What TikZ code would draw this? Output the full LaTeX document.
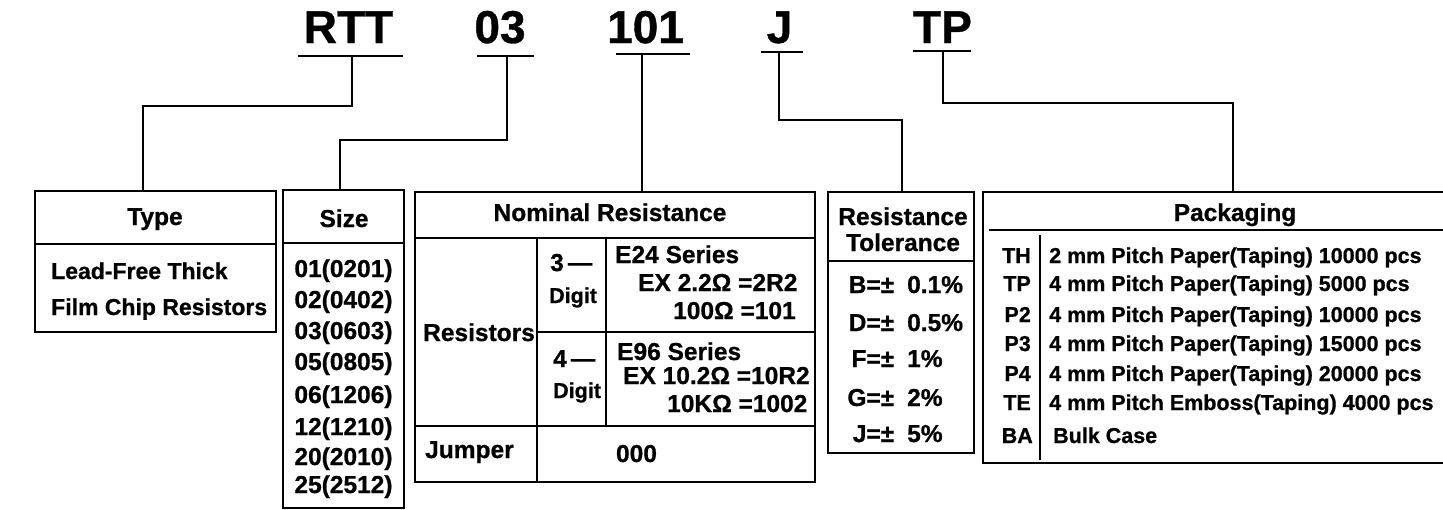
\documentclass[tikz,border=0pt]{standalone}
\usepackage{fontspec}
\setmainfont{Liberation Sans}[BoldFeatures={FakeBold=0.8}]
\begin{document}
\begin{tikzpicture}[x=1pt,y=-1pt,line join=miter,
  box/.style={draw,line width=2.6pt,inner sep=0pt},
  conn/.style={line width=2.3pt},
  rule/.style={line width=2.6pt},
  big/.style={inner sep=0pt,font=\fontsize{46}{50}\selectfont\bfseries},
  txt/.style={inner sep=0pt,font=\fontsize{24.5}{28}\selectfont\bfseries},
  tys/.style={inner sep=0pt,font=\fontsize{23}{26}\selectfont\bfseries},
  sm/.style={inner sep=0pt,font=\fontsize{21.5}{25}\selectfont\bfseries}]
\useasboundingbox (0,0) rectangle (1443,509);

% ---- code headings ----
\node[big,anchor=base] (rtt) at (348.5,43) {RTT};
\node[big,anchor=base] (n03) at (500,43) {03};
\node[big,anchor=base] (n101) at (645.5,43) {101};
\node[big,anchor=base] (nJ) at (779.5,43) {J};
\node[big,anchor=base] (nTP) at (942.5,43) {TP};
\draw[rule] (298,56) -- (403,56);
\draw[rule] (477,56) -- (534,56);
\draw[rule] (616,54) -- (690,54);
\draw[rule] (761,52) -- (803,52);
\draw[rule] (913,51) -- (971,51);
\coordinate (uRTT) at (352,56);
\coordinate (u03) at (507,56);
\coordinate (u101) at (642,54);
\coordinate (uJ) at (779,52);
\coordinate (uTP) at (943,51);

% ---- boxes ----
\node[box,minimum width=241pt,minimum height=141pt] (typebox) at (155.5,261.5) {};
\node[box,minimum width=121pt,minimum height=318pt] (sizebox) at (343.5,349) {};
\node[box,minimum width=400pt,minimum height=290pt] (nombox) at (615,337) {};
\node[box,minimum width=146pt,minimum height=261pt] (tolbox) at (901,322.5) {};
\draw[rule] (1446,192) -- (983,192) -- (983,463) -- (1446,463);

\coordinate (typeT) at (143,191);
\coordinate (sizeT) at (340,190);
\coordinate (nomT) at (642,192);
\coordinate (tolT) at (902,192);
\coordinate (packT) at (1233,192);

% ---- connectors ----
\draw[conn] (uRTT) -- ++(0,50) -| (typeT);
\draw[conn] (u03) -- ++(0,84) -| (sizeT);
\draw[conn] (u101) -- (nomT);
\draw[conn] (uJ) -- ++(0,68) -| (tolT);
\draw[conn] (uTP) -- ++(0,52) -| (packT);

% ---- Type ----
\draw[rule] (35,244) -- (276,244);
\node[txt,anchor=base] (typeh) at (155,225) {Type};
\node[tys,anchor=base west] (type1) at (51,279) {Lead-Free Thick};
\node[tys,anchor=base west] (type2) at (51,315) {Film Chip Resistors};

% ---- Size ----
\draw[rule] (283,243) -- (404,243);
\node[txt,anchor=base] (sizeh) at (344,227) {Size};
\node[txt,anchor=base] (s1) at (343.5,277) {01(0201)};
\node[txt,anchor=base] (s2) at (343.5,308) {02(0402)};
\node[txt,anchor=base] (s3) at (343.5,339) {03(0603)};
\node[txt,anchor=base] (s4) at (343.5,370) {05(0805)};
\node[txt,anchor=base] (s5) at (343.5,403) {06(1206)};
\node[txt,anchor=base] (s6) at (343.5,435) {12(1210)};
\node[txt,anchor=base] (s7) at (343.5,465) {20(2010)};
\node[txt,anchor=base] (s8) at (343.5,493) {25(2512)};

% ---- Nominal Resistance ----
\draw[rule] (415,238) -- (815,238);
\draw[rule] (537,238) -- (537,482);
\draw[rule] (606,238) -- (606,426);
\draw[rule] (537,332) -- (815,332);
\draw[rule] (415,426) -- (815,426);
\node[txt,anchor=base] (nomh) at (610,221) {Nominal Resistance};
\node[txt,anchor=base west] (res) at (423,341) {Resistors};
\node[txt,anchor=base west] (d3) at (550,271) {3\,—};
\node[sm,anchor=base west] (dg3) at (549,303) {Digit};
\node[txt,anchor=base west] (e24) at (615,263) {E24 Series};
\node[txt,anchor=base west] (e24a) at (638,291) {EX 2.2Ω =2R2};
\node[txt,anchor=base west] (e24b) at (673,319) {100Ω =101};
\node[txt,anchor=base west] (d4) at (553,367) {4\,—};
\node[sm,anchor=base west] (dg4) at (553,398) {Digit};
\node[txt,anchor=base west] (e96) at (617,360) {E96 Series};
\node[txt,anchor=base west] (e96a) at (623,384) {EX 10.2Ω =10R2};
\node[txt,anchor=base west] (e96b) at (667,412) {10KΩ =1002};
\node[txt,anchor=base west] (jmp) at (425,458) {Jumper};
\node[txt,anchor=base] (zero) at (636.5,462) {000};

% ---- Tolerance ----
\draw[rule] (828,261) -- (974,261);
\node[txt,anchor=base] (tolh1) at (903,225) {Resistance};
\node[txt,anchor=base] (tolh2) at (903,251) {Tolerance};
\node[txt,anchor=base west] (tB) at (907,293) {\llap{B=±\hspace{13pt}}0.1\%};
\node[txt,anchor=base west] (tD) at (907,331) {\llap{D=±\hspace{13pt}}0.5\%};
\node[txt,anchor=base west] (tF) at (907,367) {\llap{F=±\hspace{13pt}}1\%};
\node[txt,anchor=base west] (tG) at (907,406) {\llap{G=±\hspace{13pt}}2\%};
\node[txt,anchor=base west] (tJ) at (907,442) {\llap{J=±\hspace{13pt}}5\%};

% ---- Packaging ----
\draw[rule] (989,230) -- (1446,230);
\draw[rule] (1040,235) -- (1040,460);
\node[txt,anchor=base] (packh) at (1235,221) {Packaging};
\node[sm,anchor=base east] (cTH) at (1031,263) {TH};
\node[sm,anchor=base east] (cTP) at (1031,291) {TP};
\node[sm,anchor=base east] (cP2) at (1031,322) {P2};
\node[sm,anchor=base east] (cP3) at (1031,351) {P3};
\node[sm,anchor=base east] (cP4) at (1031,381) {P4};
\node[sm,anchor=base east] (cTE) at (1031,410) {TE};
\node[sm,anchor=base east] (cBA) at (1033,443) {BA};
\node[sm,anchor=base west] (pTH) at (1049,263) {2 mm Pitch Paper(Taping) 10000 pcs};
\node[sm,anchor=base west] (pTP) at (1049,291) {4 mm Pitch Paper(Taping) 5000 pcs};
\node[sm,anchor=base west] (pP2) at (1049,322) {4 mm Pitch Paper(Taping) 10000 pcs};
\node[sm,anchor=base west] (pP3) at (1049,351) {4 mm Pitch Paper(Taping) 15000 pcs};
\node[sm,anchor=base west] (pP4) at (1049,381) {4 mm Pitch Paper(Taping) 20000 pcs};
\node[sm,anchor=base west] (pTE) at (1049,410) {4 mm Pitch Emboss(Taping) 4000 pcs};
\node[sm,anchor=base west] (pBA) at (1053,443) {Bulk Case};
\end{tikzpicture}
\end{document}
